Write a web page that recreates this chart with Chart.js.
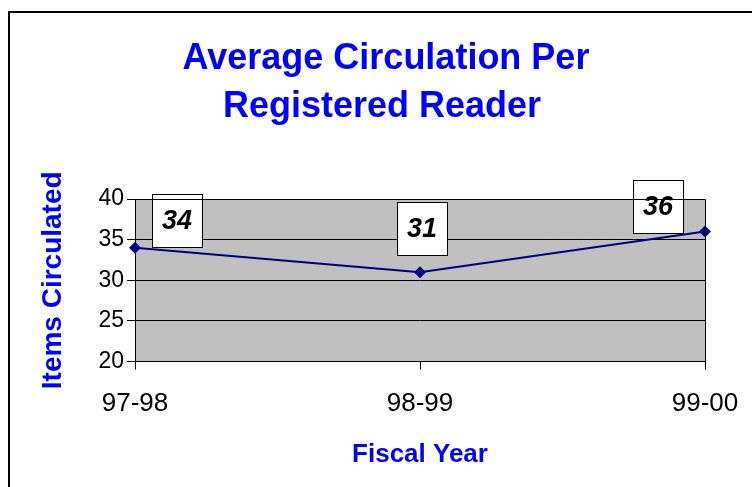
<!DOCTYPE html>
<html>
<head>
<meta charset="utf-8">
<script src="https://cdn.jsdelivr.net/npm/chart.js@4"></script>
<style>
  html, body { margin: 0; padding: 0; background: #fff; overflow: hidden; }
  #wrap { position: relative; width: 752px; height: 487px; }
  #frame { position: absolute; left: 8px; top: 11px; width: 800px; height: 520px; border: 2px solid #000; box-sizing: border-box; }
  #chart { position: absolute; left: 0; top: 0; }
</style>
</head>
<body>
<div id="wrap">
  <div id="frame"></div>
  <canvas id="chart" width="752" height="487"></canvas>
</div>
<script>
document.addEventListener('DOMContentLoaded', () => {
    const fiscalYears = ['97-98', '98-99', '99-00'];
    const itemsPerReader = [34, 31, 36];
    const yTicks = [20, 25, 30, 35, 40];
    const titleLines = ['Average Circulation Per', 'Registered Reader'];

    const font = '"Liberation Sans", Arial, sans-serif';
    const blue = '#0000ff';
    const navy = '#000080';

    // two-line title, centred a bit right of the canvas middle like the original
    const chartTitle = {
        id: 'chartTitle',
        afterDraw(chart) {
            const { ctx } = chart;
            ctx.save();
            ctx.fillStyle = blue;
            ctx.font = 'bold 36px ' + font;
            ctx.textAlign = 'center';
            ctx.textBaseline = 'alphabetic';
            ctx.fillText(titleLines[0], 386, 69);
            ctx.fillText(titleLines[1], 382, 117);
            ctx.restore();
        }
    };

    // grey plot area with a dark outline
    const plotBackground = {
        id: 'plotBackground',
        beforeDraw(chart) {
            const { ctx, chartArea: a } = chart;
            ctx.save();
            ctx.fillStyle = '#c0c0c0';
            ctx.fillRect(a.left, a.top, a.right - a.left, a.bottom - a.top);
            ctx.restore();
        },
        afterDraw(chart) {
            const { ctx, chartArea: a } = chart;
            ctx.save();
            ctx.strokeStyle = '#000';
            ctx.lineWidth = 1;
            ctx.beginPath();
            ctx.moveTo(a.left, a.top + 0.5);
            ctx.lineTo(a.right + 0.5, a.top + 0.5);
            ctx.lineTo(a.right + 0.5, a.bottom);
            ctx.stroke();
            ctx.restore();
        }
    };

    // boxed value labels next to each point
    const labelOffsets = [[42, -27], [2, -44], [-47, -25]];
    const valueBoxes = {
        id: 'valueBoxes',
        afterDatasetsDraw(chart) {
            const { ctx } = chart;
            const meta = chart.getDatasetMeta(0);
            ctx.save();
            meta.data.forEach((pt, i) => {
                const cx = pt.x + labelOffsets[i][0];
                const cy = pt.y + labelOffsets[i][1];
                const w = 50, h = 53;
                const x0 = Math.round(cx - w / 2) + 0.5;
                const y0 = Math.round(cy - h / 2) + 0.5;
                ctx.fillStyle = '#fff';
                ctx.fillRect(x0, y0, w, h);
                ctx.strokeStyle = '#000';
                ctx.lineWidth = 1;
                ctx.strokeRect(x0, y0, w, h);
                ctx.fillStyle = '#000';
                ctx.font = 'italic bold 27px ' + font;
                ctx.textAlign = 'center';
                ctx.textBaseline = 'middle';
                ctx.fillText(String(chart.data.datasets[0].data[i]), cx, cy + 1);
            });
            ctx.restore();
        }
    };

    new Chart(document.getElementById('chart'), {
        type: 'line',
        data: {
            labels: fiscalYears,
            datasets: [{
                data: itemsPerReader,
                borderColor: navy,
                borderWidth: 2,
                backgroundColor: navy,
                pointStyle: 'rectRot',
                pointRadius: 6,
                pointBorderWidth: 0,
                tension: 0,
                fill: false
            }]
        },
        options: {
            responsive: false,
            animation: false,
            layout: { padding: { left: 0, right: 47, top: 199, bottom: 0 } },
            plugins: {
                legend: { display: false },
                tooltip: { enabled: false },
                title: { display: false }
            },
            scales: {
                x: {
                    offset: false,
                    afterFit(axis) { axis.paddingRight = 0; axis.paddingLeft = 0; },
                    grid: { drawOnChartArea: false, drawTicks: true, tickLength: 8, color: '#000' },
                    border: { color: '#000', width: 1 },
                    ticks: { color: '#000', font: { family: font, size: 26 }, padding: 19, maxRotation: 0 },
                    title: {
                        display: true,
                        text: 'Fiscal Year',
                        color: blue,
                        font: { family: font, size: 26, weight: 'bold' },
                        padding: { top: 0, bottom: 17 }
                    }
                },
                y: {
                    min: yTicks[0],
                    max: yTicks[yTicks.length - 1],
                    afterBuildTicks(axis) {
                        axis.ticks = yTicks.map(v => ({ value: v }));
                    },
                    afterFit(axis) { axis.width = 135; },
                    grid: { color: '#000', tickLength: 8 },
                    border: { color: '#000', width: 1 },
                    ticks: { color: '#000', font: { family: font, size: 23 }, padding: 3 },
                    title: {
                        display: true,
                        text: 'Items Circulated',
                        color: blue,
                        font: { family: font, size: 28, weight: 'bold' },
                        padding: { top: 36, bottom: 0 }
                    }
                }
            }
        },
        plugins: [plotBackground, valueBoxes, chartTitle]
    });
});
</script>
</body>
</html>
